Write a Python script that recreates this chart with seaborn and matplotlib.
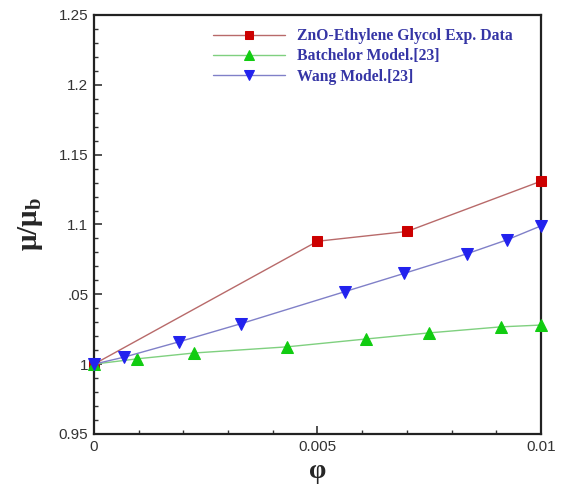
import matplotlib
matplotlib.use("Agg")
import matplotlib.pyplot as plt
import seaborn as sns
import pandas as pd
from matplotlib.ticker import MultipleLocator, FixedLocator

# Data
exp_phi = [0.0, 0.005, 0.007, 0.01]
exp_mu = [1.0, 1.088, 1.095, 1.131]

batch_phi = [0.0, 0.00096, 0.00224, 0.00432, 0.00608, 0.0075, 0.0091, 0.01]
batch_mu = [1.0, 1.0038, 1.0080, 1.0124, 1.0180, 1.0224, 1.0267, 1.0280]

wang_phi = [0.0, 0.00067, 0.0019, 0.00329, 0.00562, 0.00694, 0.00834, 0.00924, 0.01]
wang_mu = [1.0, 1.005, 1.016, 1.029, 1.052, 1.065, 1.079, 1.089, 1.099]

labels = ["ZnO-Ethylene Glycol Exp. Data", "Batchelor Model.[23]", "Wang Model.[23]"]
x_ticks = [0, 0.005, 0.01]
x_tick_labels = ["0", "0.005", "0.01"]
y_ticks = [0.95, 1.0, 1.05, 1.1, 1.15, 1.2, 1.25]
y_tick_labels = ["0.95", "1", ".05", "1.1", "1.15", "1.2", "1.25"]

sns.set_theme(style="white")
plt.rcParams['font.family'] = ['Liberation Sans', 'DejaVu Sans']

fig = plt.figure(figsize=(5.61, 4.90), dpi=100)
ax = fig.add_axes([0.1676, 0.1143, 0.7967, 0.8551])

series = [
    (exp_phi, exp_mu, labels[0], "#b86a6a", "#cc0000", "s", 7),
    (batch_phi, batch_mu, labels[1], "#7fd07f", "#11cc11", "^", 8),
    (wang_phi, wang_mu, labels[2], "#8080c8", "#2222ee", "v", 8),
]
for xs, ys, lab, lc, mc, mk, ms in series:
    df = pd.DataFrame({"phi": xs, "mu": ys})
    sns.lineplot(data=df, x="phi", y="mu", ax=ax, color=lc, lw=1.0,
                 marker=mk, markersize=ms, markerfacecolor=mc,
                 markeredgecolor=mc, label=lab, zorder=3, clip_on=False)

ax.set_xlim(0, 0.01)
ax.set_ylim(0.95, 1.25)
ax.xaxis.set_major_locator(FixedLocator(x_ticks))
ax.set_xticklabels(x_tick_labels)
ax.yaxis.set_major_locator(FixedLocator(y_ticks))
ax.set_yticklabels(y_tick_labels)
ax.xaxis.set_minor_locator(MultipleLocator(0.001))
ax.yaxis.set_minor_locator(MultipleLocator(0.01))
ax.tick_params(which="major", direction="in", length=6, width=1.2, color="#333333",
               labelsize=11, labelcolor="#333333", bottom=True, left=True, pad=4)
ax.tick_params(which="minor", direction="in", length=3, width=1.0, color="#333333",
               bottom=True, left=True)
for s in ax.spines.values():
    s.set_color("#222222")
    s.set_linewidth(1.6)

ax.set_xlabel("φ", fontsize=20, fontfamily=["Liberation Serif", "DejaVu Serif"],
              fontweight="bold", labelpad=4)
ax.set_ylabel("μ/μ$_\\mathregular{b}$", fontsize=21,
              fontfamily=["Liberation Serif", "DejaVu Serif"],
              fontweight="bold", labelpad=10)

leg = ax.legend(loc="upper left", bbox_to_anchor=(0.266, 0.968), frameon=False,
                borderaxespad=0, borderpad=0,
                handlelength=4.6, handletextpad=0.75, labelspacing=0.26,
                markerscale=0.9,
                prop={"family": "Liberation Serif", "weight": "bold", "size": 11.3})
for t in leg.get_texts():
    t.set_color("#3535a5")

fig.savefig("out.png", dpi=100)
